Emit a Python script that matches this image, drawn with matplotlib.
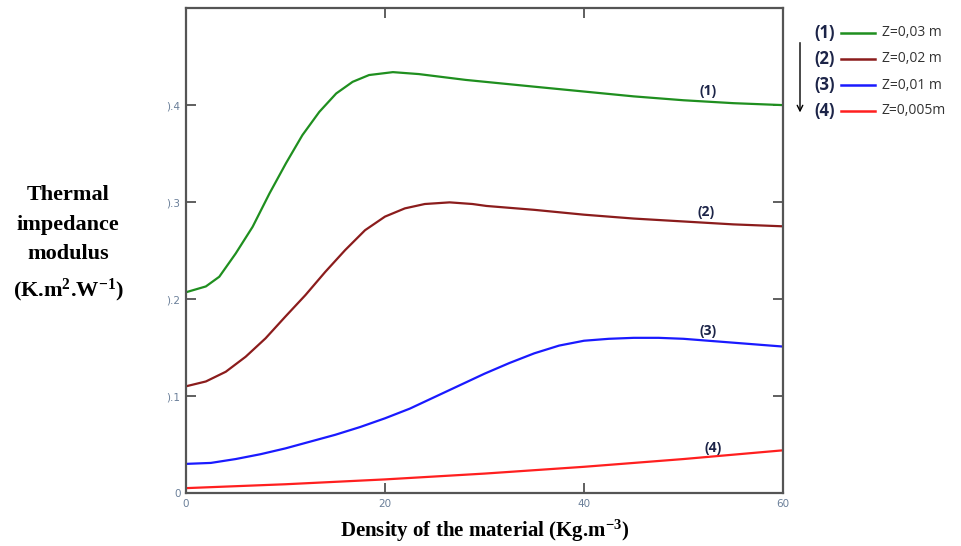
import numpy as np
import matplotlib.pyplot as plt
from matplotlib.lines import Line2D

plt.rcParams['mathtext.fontset'] = 'custom'
plt.rcParams['mathtext.rm'] = 'Liberation Serif:bold'
plt.rcParams['mathtext.it'] = 'Liberation Serif:bold'
plt.rcParams['mathtext.bf'] = 'Liberation Serif:bold'

# Data
density_1 = [0, 2.0, 3.35, 5.0, 6.7, 8.4, 10.05, 11.7, 13.4, 15.1, 16.75, 18.4,
             20.8, 23.4, 28.1, 35, 40, 45, 50, 55, 60]
z_003 = [0.207, 0.213, 0.223, 0.247, 0.2745, 0.309, 0.340, 0.369, 0.393, 0.412,
         0.424, 0.431, 0.434, 0.432, 0.426, 0.419, 0.414, 0.409, 0.405, 0.402,
         0.400]

density_2 = [0, 2, 4, 6, 8, 10, 12, 14, 16, 18, 20, 22, 24, 26.5, 28.8, 30.2,
             35, 40, 45, 50, 55, 60]
z_002 = [0.110, 0.115, 0.125, 0.1405, 0.1595, 0.182, 0.204, 0.228, 0.2505,
         0.271, 0.285, 0.2935, 0.298, 0.2997, 0.298, 0.296, 0.292, 0.287, 0.283,
         0.280, 0.277, 0.275]

density_3 = [0, 2.5, 5, 7.5, 10, 12.5, 15, 17.5, 20, 22.5, 25, 27.5, 30, 32.5,
             35, 37.5, 40, 42.5, 45, 47.5, 50, 55, 60]
z_001 = [0.030, 0.031, 0.035, 0.040, 0.046, 0.053, 0.060, 0.068, 0.077, 0.087,
         0.099, 0.111, 0.123, 0.134, 0.144, 0.152, 0.157, 0.159, 0.160, 0.160,
         0.159, 0.155, 0.151]

density_4 = [0, 10, 20, 30, 40, 50, 60]
z_0005 = [0.005, 0.009, 0.014, 0.020, 0.027, 0.035, 0.044]

curve_tags = ['(1)', '(2)', '(3)', '(4)']
legend_labels = ['Z=0,03 m', 'Z=0,02 m', 'Z=0,01 m', 'Z=0,005m']
tag_pos = [(52.5, 0.415), (52.3, 0.290), (52.5, 0.167), (53.0, 0.046)]

x_ticks = [0, 20, 40, 60]
y_ticks = [0, 0.1, 0.2, 0.3, 0.4]
y_tick_labels = ['0', ').1', ').2', ').3', ').4']

colors = ['#1f8f1f', '#8b1c1c', '#1a1aff', '#ff1f1f']

fig = plt.figure(figsize=(9.62, 5.46), dpi=100)
ax = fig.add_axes([0.1933, 0.0971, 0.6206, 0.888])

ax.plot(density_1, z_003, color=colors[0], lw=1.6)
ax.plot(density_2, z_002, color=colors[1], lw=1.6)
ax.plot(density_3, z_001, color=colors[2], lw=1.6)
ax.plot(density_4, z_0005, color=colors[3], lw=1.6)

for tag, (tx, ty) in zip(curve_tags, tag_pos):
    ax.text(tx, ty, tag, ha='center', va='center', fontsize=10,
            fontweight='bold', color='#1c2448', family='Open Sans')

ax.set_xlim(0, 60)
ax.set_ylim(0, 0.5)
ax.set_xticks(x_ticks)
ax.set_yticks(y_ticks)
ax.set_yticklabels(y_tick_labels)
ax.tick_params(direction='in', length=7, width=1.2, color='#444444',
               labelsize=7.5, labelcolor='#6a7f99', top=True, right=True, pad=4)
for s in ax.spines.values():
    s.set_color('#555555')
    s.set_linewidth(1.6)

fig.text(0.504, 0.027, 'Density of the material (Kg.m$^{-3}$)',
         ha='center', va='center', family='Liberation Serif',
         fontsize=15, fontweight='bold')
fig.text(0.0707, 0.552, 'Thermal\nimpedance\nmodulus\n(K.m$^{2}$.W$^{-1}$)',
         ha='center', va='center', family='Liberation Serif', fontsize=16,
         fontweight='bold', linespacing=1.65)

# Legend drawn by hand on the right
leg_y = [0.9396, 0.892, 0.844, 0.797]
for tag, lab, c, y in zip(curve_tags, legend_labels, colors, leg_y):
    fig.text(0.847, y, tag, ha='left', va='center', fontsize=12,
             fontweight='bold', color='#1c2448', family='Open Sans')
    fig.add_artist(Line2D([0.874, 0.910], [y, y], color=c, lw=1.8))
    fig.text(0.9165, y, lab, ha='left', va='center', fontsize=10,
             color='#333333', family='Open Sans')

ax.annotate('', xy=(0.8316, 0.789), xytext=(0.8316, 0.927),
            xycoords='figure fraction', textcoords='figure fraction',
            arrowprops=dict(arrowstyle='->', color='black', lw=1))

fig.savefig('out.png', dpi=100)
